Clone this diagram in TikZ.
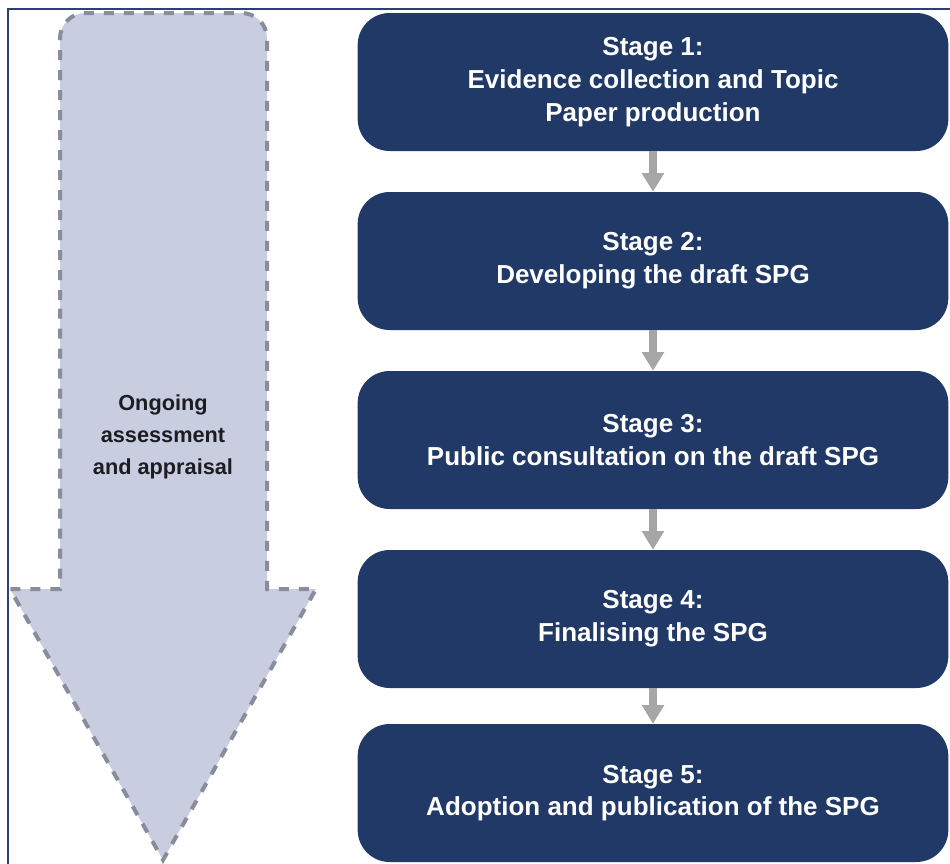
\documentclass[tikz,border=0pt]{standalone}
\usepackage{fontspec}
\setmainfont{Liberation Sans}
\usetikzlibrary{arrows.meta}
\definecolor{stageblue}{RGB}{33,57,102}
\definecolor{framecol}{RGB}{44,65,112}
\definecolor{lavender}{RGB}{201,205,224}
\definecolor{dashgray}{RGB}{136,140,156}
\definecolor{linkgray}{RGB}{166,166,166}
\definecolor{labeltext}{RGB}{28,28,34}

\begin{document}
\begin{tikzpicture}[x=0.75pt,y=0.75pt]
                \tikzstyle{stagebox}=[draw=none, fill=stageblue, rounded corners=24pt, minimum width=443pt, minimum height=103.5pt, inner sep=0pt, align=center, text=white, font=\bfseries\fontsize{19.5}{24.5}\selectfont]
                \tikzstyle{stagelink}=[draw=linkgray, line width=5.5pt, -{Triangle[width=16pt,length=14pt]}]
                \tikzstyle{bigarrow}=[fill=lavender, draw=dashgray, line width=3pt, dash pattern=on 7.5pt off 7.5pt]
                \useasboundingbox (0,0) rectangle (950,-864);
                \draw [framecol, line width=1.5pt] (950,-9) -- (8,-9) -- (8,-864);
                \draw [bigarrow] (60,-300) [rounded corners=19pt] -- (60,-13) -- (267,-13) -- (267,-300) [sharp corners] -- (267,-589) -- (316,-589) -- (163,-860) -- (10,-589) -- (60,-589) -- cycle;
                \node [align=center, text=labeltext, font=\bfseries\fontsize{16.3}{24}\selectfont] (ongoing) at (163,-437) {Ongoing\\assessment\\and appraisal};
                \node [stagebox] (stage1) at (653,-82) {Stage 1:\\Evidence collection and Topic\\Paper production};
                \node [stagebox] (stage2) at (653,-261) {Stage 2:\\Developing the draft SPG};
                \node [stagebox] (stage3) at (653,-440) {Stage 3:\\Public consultation on the draft SPG};
                \node [stagebox] (stage4) at (653,-619) {Stage 4:\\Finalising the SPG};
                \node [stagebox] (stage5) at (653,-793) {Stage 5:\\Adoption and publication of the SPG};
                \draw [stagelink] (stage1) -- (stage2);
                \draw [stagelink] (stage2) -- (stage3);
                \draw [stagelink] (stage3) -- (stage4);
                \draw [stagelink] (stage4) -- (stage5);
              \end{tikzpicture}
\end{document}
